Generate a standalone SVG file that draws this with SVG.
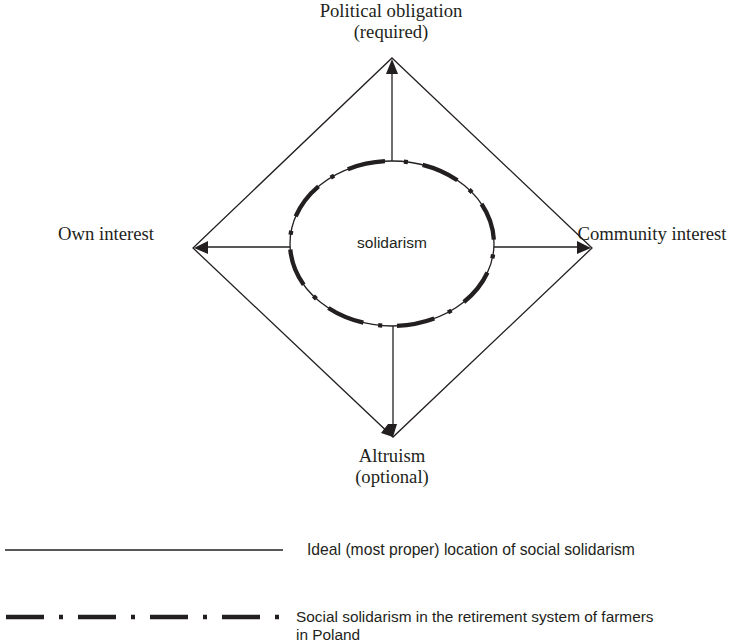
<svg xmlns="http://www.w3.org/2000/svg" width="729" height="643" viewBox="0 0 729 643">
<style>
.serif{font-family:"Liberation Serif","Times New Roman",serif;font-size:18.7px;fill:#231f20}
.sans{font-family:"Liberation Sans",Arial,sans-serif;fill:#231f20}
.ln{stroke:#231f20;stroke-width:1.3;fill:none}
.hd{fill:#231f20;stroke:none}
.dash{stroke:#231f20;stroke-width:4.3;fill:none;stroke-dasharray:38 15 4 15}
</style>
<rect width="729" height="643" fill="#fff"/>
<g id="connectors">
<polygon class="ln" points="392,58 592,248 393,437 193,248"/>
<line class="ln" x1="392" y1="161" x2="392" y2="72"/>
<polygon class="hd" points="392,59 386,74 398,74"/>
<line class="ln" x1="290" y1="247" x2="206" y2="247"/>
<polygon class="hd" points="194,248 208,241 208,254"/>
<line class="ln" x1="494" y1="247" x2="579" y2="247"/>
<polygon class="hd" points="591,248 577,241 577,254"/>
<line class="ln" x1="393" y1="326" x2="393" y2="426"/>
<polygon class="hd" points="388,424 397,424 393,437 381,433"/>
</g>
<g id="solidarism">
<ellipse class="ln" cx="392" cy="243.5" rx="102" ry="82.5" stroke-width="1"/>
<path class="dash" stroke-dashoffset="41" d="M392 161 A102 82.5 0 0 1 392 326 A102 82.5 0 0 1 392 161"/>
<text class="sans" x="392" y="248" font-size="15.5" text-anchor="middle">solidarism</text>
</g>
<g id="political">
<text class="serif" x="391" y="17" text-anchor="middle">Political obligation</text>
<text class="serif" x="391" y="38" text-anchor="middle">(required)</text>
</g>
<g id="own">
<text class="serif" x="106" y="240" text-anchor="middle">Own interest</text>
</g>
<g id="community">
<text class="serif" x="652" y="240" text-anchor="middle">Community interest</text>
</g>
<g id="altruism">
<text class="serif" x="392" y="462" text-anchor="middle">Altruism</text>
<text class="serif" x="392" y="483" text-anchor="middle">(optional)</text>
</g>
<g id="legend">
<line class="ln" x1="5" y1="550" x2="283" y2="550"/>
<text class="sans" x="307" y="555" font-size="15.7">Ideal (most proper) location of social solidarism</text>
<line class="dash" x1="6" y1="617" x2="280" y2="617"/>
<text class="sans" x="296" y="622" font-size="15.4">Social solidarism in the retirement system of farmers</text>
<text class="sans" x="296" y="640" font-size="15.4">in Poland</text>
</g>
</svg>
